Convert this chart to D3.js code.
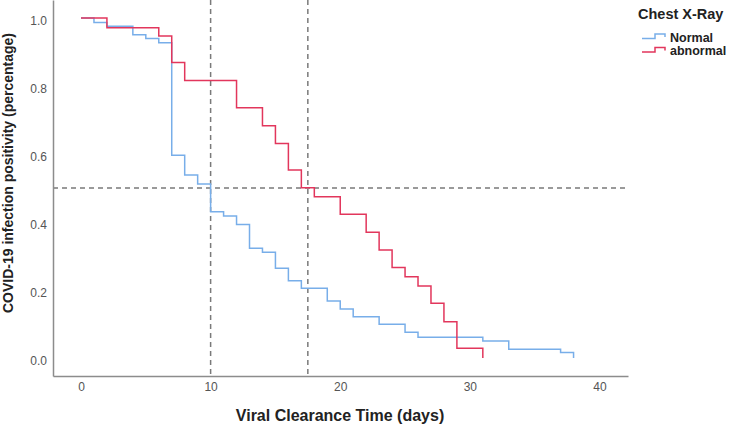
<!DOCTYPE html>
<html>
<head>
<meta charset="utf-8">
<script src="https://cdn.jsdelivr.net/npm/d3@7"></script>
<style>
  html, body { margin: 0; padding: 0; background: #fff; }
  svg { display: block; font-family: "Liberation Sans", Arial, sans-serif; }
</style>
</head>
<body>
<svg id="chart" width="735" height="426"></svg>
<script>
// ---- Data ----
const normalDays = [0, 1, 2, 4, 5, 6, 7, 8, 9, 10, 11, 12, 13, 14, 15, 16, 17, 19, 20, 21, 23, 25, 26, 31, 33, 37, 38];
const normalSurv = [1.0, 0.987, 0.976, 0.951, 0.940, 0.927, 0.596, 0.538, 0.512, 0.430, 0.418, 0.393, 0.323, 0.311, 0.264, 0.227, 0.205, 0.168, 0.144, 0.121, 0.099, 0.076, 0.061, 0.050, 0.026, 0.016, 0.0];
const abnormalDays = [0, 2, 6, 7, 8, 12, 14, 15, 16, 17, 18, 20, 22, 23, 24, 25, 26, 27, 28, 29, 31];
const abnormalSurv = [1.0, 0.971, 0.947, 0.869, 0.816, 0.736, 0.683, 0.631, 0.553, 0.501, 0.474, 0.423, 0.370, 0.318, 0.266, 0.239, 0.212, 0.161, 0.107, 0.029, 0.0];
const xTicks = [0, 10, 20, 30, 40];
const yTicks = [0.0, 0.2, 0.4, 0.6, 0.8, 1.0];
const medianDays = [10, 17.5];
const medianLevel = 0.5;
const seriesNames = ["Normal", "abnormal"];
const legendTitle = "Chest X-Ray";
const xTitle = "Viral Clearance Time (days)";
const yTitle = "COVID-19 infection positivity (percentage)";

const colors = { Normal: "#78aee9", abnormal: "#e2365c" };

const svg = d3.select("#chart");

const x = d3.scaleLinear().domain([-2.16, 42.2]).range([53, 628]);
const y = d3.scaleLinear().domain([-0.0529, 1.0529]).range([376, 0]);

// Dashed reference lines
const dashColor = "#7a7a7a";
svg.append("g").selectAll("line.v").data(medianDays).join("line")
  .attr("x1", d => x(d)).attr("x2", d => x(d))
  .attr("y1", y.range()[1]).attr("y2", y.range()[0])
  .attr("stroke", dashColor).attr("stroke-width", 1.5)
  .attr("stroke-dasharray", "5,4");
svg.append("line")
  .attr("x1", x.range()[0]).attr("x2", x.range()[1])
  .attr("y1", y(medianLevel)).attr("y2", y(medianLevel))
  .attr("stroke", dashColor).attr("stroke-width", 1.5)
  .attr("stroke-dasharray", "5,4");

// Axes
const xAxis = svg.append("g")
  .attr("transform", `translate(0,${y.range()[0]})`)
  .call(d3.axisBottom(x).tickValues(xTicks).tickSize(0).tickPadding(6.5).tickSizeOuter(0).tickFormat(d3.format("d")));
const yAxis = svg.append("g")
  .attr("transform", `translate(${x.range()[0]},0)`)
  .call(d3.axisLeft(y).tickValues(yTicks).tickSize(0).tickPadding(6).tickSizeOuter(0).tickFormat(d3.format(".1f")));

[xAxis, yAxis].forEach(g => {
  g.select(".domain").attr("stroke", "#8c8c8c").attr("stroke-width", 1.5);
  g.selectAll(".tick text").attr("fill", "#555").attr("font-size", 12)
    .attr("font-family", "'Liberation Sans', Arial, sans-serif");
});
yAxis.selectAll(".tick text").attr("transform", "translate(0,2.5)");

// Step curves
const line = d3.line().x(d => x(d[0])).y(d => y(d[1])).curve(d3.curveStepAfter);
const series = [
  { name: "Normal", pts: d3.zip(normalDays, normalSurv) },
  { name: "abnormal", pts: d3.zip(abnormalDays, abnormalSurv) }
];
svg.append("g").selectAll("path").data(series).join("path")
  .attr("d", d => line(d.pts))
  .attr("fill", "none")
  .attr("stroke", d => colors[d.name])
  .attr("stroke-width", 1.5);

// Axis titles
svg.append("text")
  .attr("x", 340).attr("y", 421)
  .attr("text-anchor", "middle")
  .attr("font-size", 16).attr("font-weight", "bold").attr("fill", "#222")
  .text(xTitle);
svg.append("text")
  .attr("transform", "translate(13,173) rotate(-90)")
  .attr("text-anchor", "middle")
  .attr("font-size", 14).attr("font-weight", "bold").attr("fill", "#222")
  .text(yTitle);

// Legend
const lg = svg.append("g");
lg.append("text").attr("x", 638).attr("y", 19)
  .attr("font-size", 14.5).attr("font-weight", "bold").attr("fill", "#222")
  .text(legendTitle);
seriesNames.forEach((name, i) => {
  const base = 41.5 + i * 13.5;
  lg.append("path")
    .attr("d", `M642,${base - 3}H655V${base - 7.5}H665V${base - 4.5}`)
    .attr("fill", "none").attr("stroke", colors[name]).attr("stroke-width", 1.5);
  lg.append("text").attr("x", 670).attr("y", base)
    .attr("font-size", 12.5).attr("font-weight", "bold").attr("fill", "#222")
    .text(name);
});
</script>
</body>
</html>
